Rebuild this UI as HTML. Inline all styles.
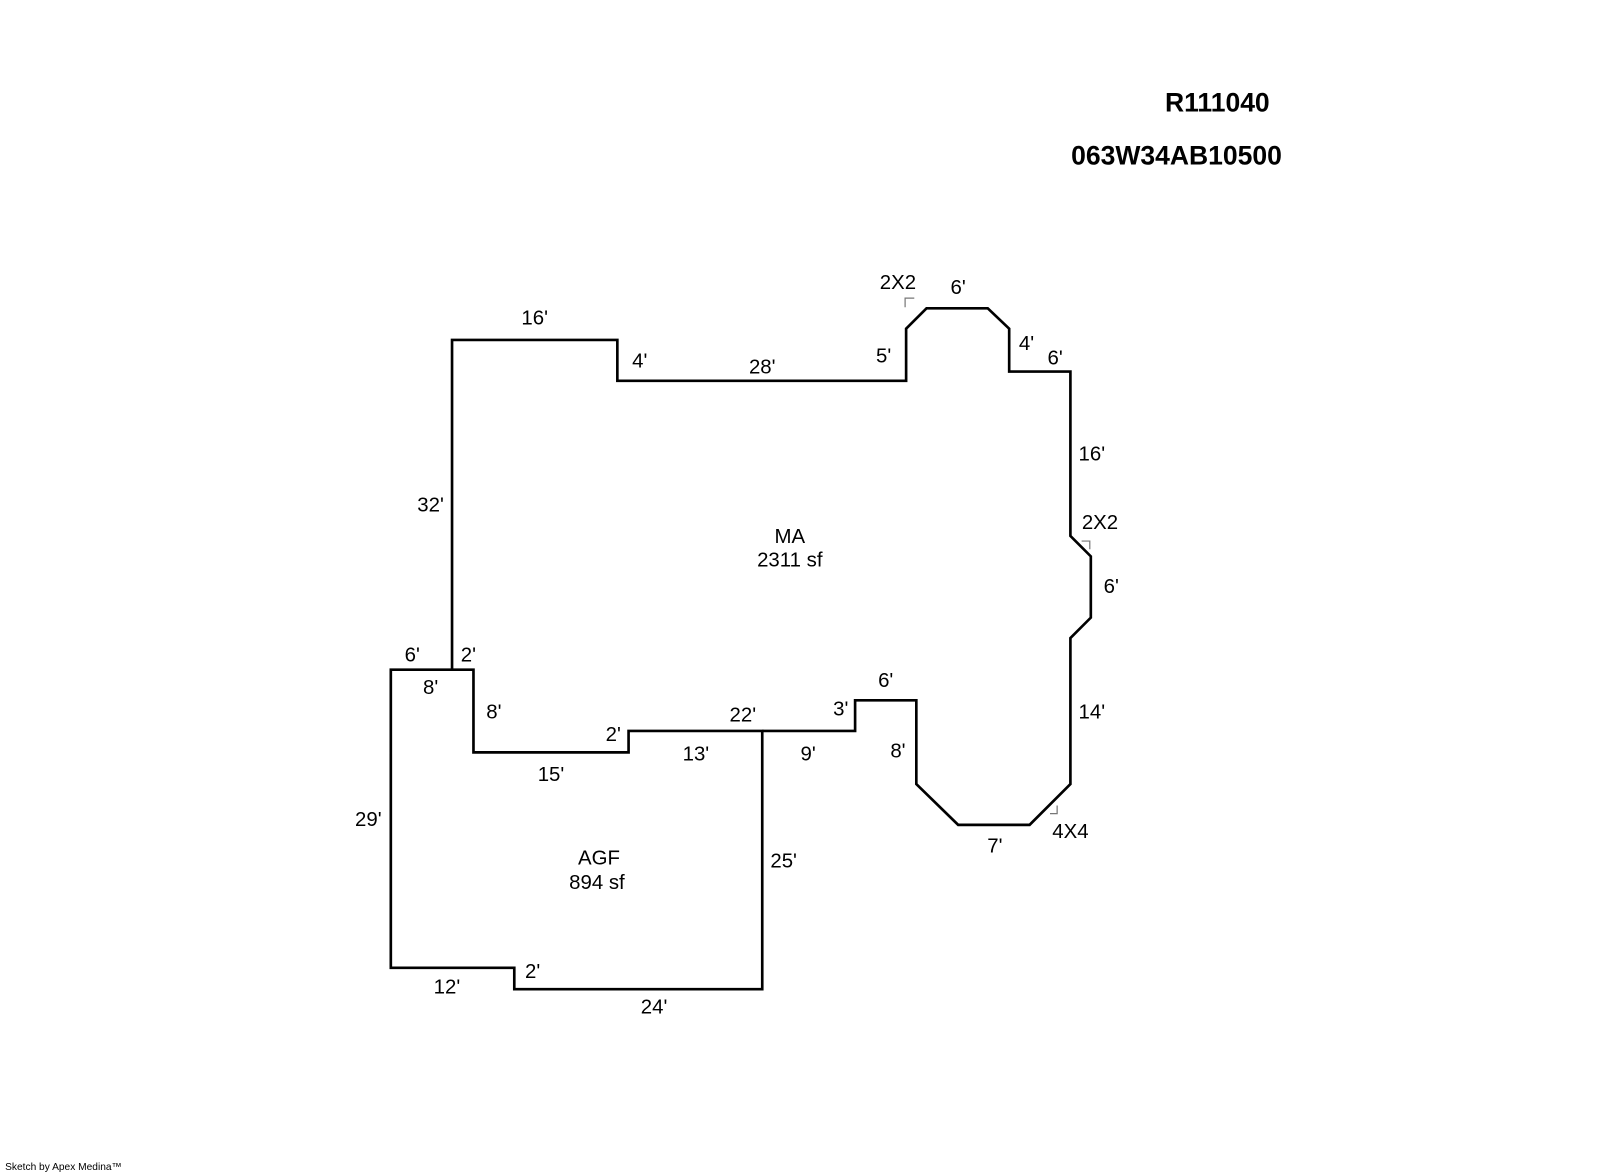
<!DOCTYPE html>
<html><head><meta charset="utf-8"><style>
html,body{margin:0;padding:0;background:#fff;}
svg{display:block;}
text{font-family:"Liberation Sans",Arial,sans-serif;fill:#000;}
</style></head><body>
<svg width="1600" height="1174" viewBox="0 0 1568 1150" preserveAspectRatio="none" xmlns="http://www.w3.org/2000/svg">
<g fill="none" stroke="#000" stroke-width="2.6" stroke-linejoin="miter">
<polyline points="443,656 443,333 605,333 605,373 888,373 888,322 908,302 968,302 989,322 989,364 1049,364 1049,525 1069,545 1069,605 1049,625 1049,768 1009,808 939,808 898,768 898,686 838,686 838,716 747,716"/>
<polygon points="383,656 464,656 464,737 616,737 616,716 747,716 747,969 504,969 504,948 383,948"/>
</g>
<g fill="none" stroke="#777" stroke-width="1.2">
<polyline points="887,301 887,292 896,292"/>
<polyline points="1060,530 1068,530 1068,538"/>
<polyline points="1029,797 1036,797 1036,789"/>
</g>
<g font-size="20" text-anchor="middle">
<text x="524" y="318">16'</text>
<text x="627" y="360">4'</text>
<text x="747" y="366">28'</text>
<text x="866" y="355">5'</text>
<text x="880" y="283">2X2</text>
<text x="939" y="288">6'</text>
<text x="1006" y="343">4'</text>
<text x="1034" y="357">6'</text>
<text x="1070" y="451">16'</text>
<text x="1078" y="518">2X2</text>
<text x="1089" y="581">6'</text>
<text x="1070" y="704">14'</text>
<text x="1049" y="821">4X4</text>
<text x="975" y="835">7'</text>
<text x="880" y="742">8'</text>
<text x="868" y="673">6'</text>
<text x="824" y="701">3'</text>
<text x="792" y="745">9'</text>
<text x="728" y="707">22'</text>
<text x="682" y="745">13'</text>
<text x="601" y="726">2'</text>
<text x="540" y="765">15'</text>
<text x="484" y="704">8'</text>
<text x="459" y="648">2'</text>
<text x="404" y="648">6'</text>
<text x="422" y="680">8'</text>
<text x="422" y="501">32'</text>
<text x="361" y="809">29'</text>
<text x="768" y="850">25'</text>
<text x="438" y="973">12'</text>
<text x="522" y="958">2'</text>
<text x="641" y="993">24'</text>
<text x="774" y="532">MA</text>
<text x="774" y="555">2311 sf</text>
<text x="587" y="847">AGF</text>
<text x="585" y="871">894 sf</text>
</g>
<g font-size="26" font-weight="bold" text-anchor="middle">
<text x="1193" y="109">R111040</text>
<text x="1153" y="161">063W34AB10500</text>
</g>
<text x="5" y="1124" font-size="10" transform="translate(0,22)">Sketch by Apex Medina™</text>
</svg>
</body></html>
